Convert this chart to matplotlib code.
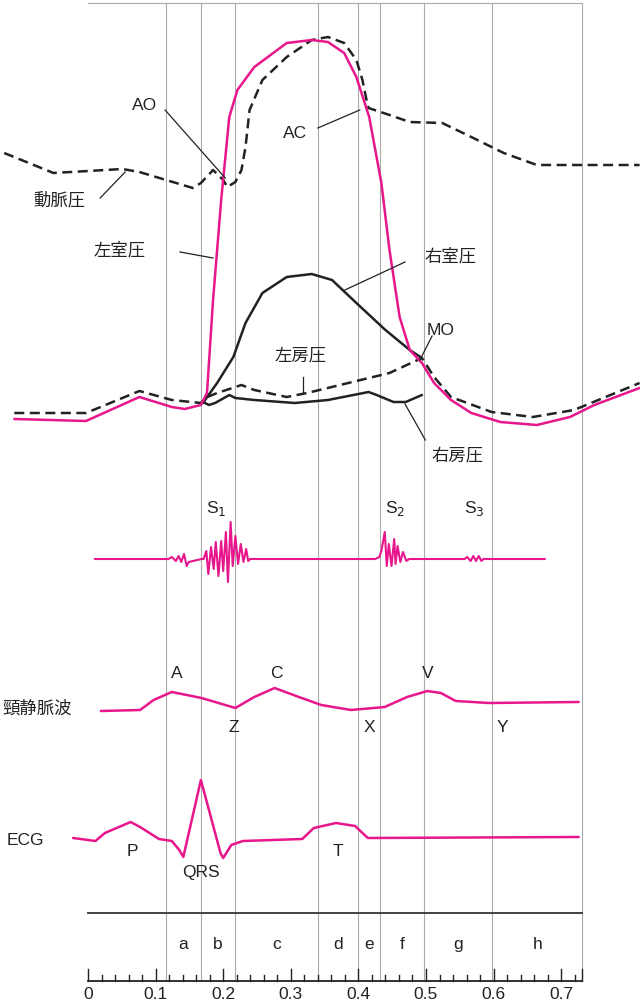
import matplotlib
matplotlib.use("Agg")
import matplotlib.pyplot as plt
import numpy as np

plt.rcParams['font.family'] = ['Liberation Sans', 'Noto Sans CJK JP', 'DejaVu Sans']
PINK = '#e8168c'

# ---- data: (time s, vertical position) ----
lv_t = [-0.109,-0.003,0.076,0.124,0.143,0.167,0.176,0.185,0.197,0.209,0.221,0.246,0.294,0.331,0.355,0.379,0.397,0.416,0.434,0.446,0.461,0.476,0.494,0.512,0.537,0.567,0.610,0.664,0.713,0.749,0.816]
lv_y = [419,421,397,407,409,405,393,300,200,117,90,67,43,40,42,53,77,117,183,250,317,350,363,383,400,413,422,425,417,405,388]

ao_t = [-0.124,-0.051,0.051,0.076,0.155,0.167,0.185,0.200,0.206,0.218,0.227,0.233,0.239,0.258,0.294,0.331,0.355,0.379,0.397,0.406,0.412,0.415,0.446,0.476,0.524,0.567,0.615,0.664,0.816]
ao_y = [153,173,169,172,188,183,170,180,187,182,170,147,110,80,57,40,37,43,60,80,100,108,115,122,123,137,153,165,165]

la_t = [-0.109,-0.003,0.076,0.124,0.167,0.173,0.191,0.227,0.246,0.294,0.324,0.385,0.446,0.494,0.512,0.537,0.597,0.658,0.719,0.816]
la_y = [413,413,391,400,403,398,393,385,390,397,393,383,373,358,377,397,412,417,410,383]

rv_t = [0.170,0.191,0.215,0.233,0.258,0.294,0.331,0.361,0.397,0.440,0.476,0.494]
rv_y = [403,383,357,323,293,277,274,280,303,330,350,358]

ra_t = [0.170,0.179,0.188,0.209,0.218,0.246,0.306,0.355,0.415,0.427,0.452,0.470,0.494]
ra_y = [402,405,403,395,398,400,403,400,392,395,402,402,395]

snd_t = [0.010,0.119,0.124,0.130,0.134,0.138,0.142,0.146,0.149,0.168,
         0.171,0.175,0.178,0.182,0.186,0.189,0.193,0.197,0.200,0.204,0.207,0.211,0.214,0.218,0.222,0.226,0.230,0.234,0.237,0.240,
         0.425,0.431,0.434,0.439,0.442,0.445,0.449,0.453,0.455,0.458,0.462,0.466,0.471,0.475,
         0.557,0.561,0.566,0.570,0.574,0.578,0.582,0.585,0.676]
snd_d = [0,0,-2,2,-3,3,-5,7,3,0,
         0,-8,15,-12,10,-17,17,-18,12,-27,23,-37,7,-23,5,-15,3,-10,2,0,
         0,-2,-8,-27,7,-15,7,-20,5,-13,3,-7,2,0,
         0,-2,2,-3,2,-3,2,0,0]
SND_BASE = 559

jvp_t = [0.019,0.077,0.097,0.124,0.168,0.218,0.246,0.276,0.312,0.345,0.389,0.439,0.472,0.502,0.522,0.544,0.593,0.726]
jvp_y = [711,710,700,692,698,708,697,688,697,705,710,707,697,691,693,701,703,702]

ecg_t = [-0.022,0.011,0.025,0.063,0.077,0.105,0.124,0.135,0.141,0.167,0.196,0.200,0.212,0.229,0.317,0.334,0.367,0.395,0.414,0.726]
ecg_y = [838,841,833,822,827,839,841,850,857,780,853,858,845,841,839,828,823,826,838,837]

bounds = [0.115,0.167,0.217,0.340,0.399,0.432,0.497,0.598,0.731]
phases = ['a','b','c','d','e','f','g','h']
tick_labels = ['0','0.1','0.2','0.3','0.4','0.5','0.6','0.7']

fig = plt.figure(figsize=(6.4,10.05), dpi=100)
ax = fig.add_axes([0,0,1,1])
ax.set_xlim(-0.1302, 0.8166)
ax.set_ylim(1005, 0)
ax.axis('off')

for b in bounds:
    ax.plot([b,b],[3,981], color='#aaaaaa', lw=0.8, zorder=0)
ax.plot([0,0.731],[3,3], color='#aaaaaa', lw=0.8, zorder=0)
ax.plot([0,0.731],[913,913], color='#333333', lw=1.3)

kw = dict(solid_joinstyle='round', solid_capstyle='round')
ax.plot(ao_t, ao_y, color='#222222', lw=1.8, ls=(0,(4,2.2)))
ax.plot(la_t, la_y, color='#222222', lw=1.8, ls=(0,(4,2.2)))
ax.plot(rv_t, rv_y, color='#222222', lw=1.8, **kw)
ax.plot(ra_t, ra_y, color='#222222', lw=1.8, **kw)
ax.plot(lv_t, lv_y, color=PINK, lw=1.8, **kw)

ax.plot(snd_t, [SND_BASE+d for d in snd_d], color=PINK, lw=1.5, **kw)
ax.plot(jvp_t, jvp_y, color=PINK, lw=1.8, **kw)
ax.plot(ecg_t, ecg_y, color=PINK, lw=1.8, **kw)

fs = 12.5
def lab(t, y, s, **kw):
    ax.text(t, y, s, fontsize=fs, ha='center', va='center', color='#222222', **kw)
def lead(t0,y0,t1,y1):
    ax.plot([t0,t1],[y0,y1], color='#222222', lw=0.9)

lab(0.084,105,'AO'); lead(0.114,110,0.203,178)
lab(0.306,133,'AC'); lead(0.340,128,0.402,110)
lab(-0.042,200,'動脈圧'); lead(0.018,198,0.055,172)
lab(0.047,250,'左室圧'); lead(0.136,252,0.185,258)
lab(0.536,256,'右室圧'); lead(0.469,262,0.380,290)
lab(0.521,330,'MO'); lead(0.509,336,0.491,360)
lab(0.314,355,'左房圧'); lead(0.318,377,0.318,392)
lab(0.547,455,'右房圧'); lead(0.469,404,0.499,440)

lab(0.190,508,'S$_1$'); lab(0.455,508,'S$_2$'); lab(0.571,508,'S$_3$')
lab(-0.075,708,'頸静脈波')
for s,t,y in [('A',0.132,673),('C',0.279,673),('V',0.502,673),('Z',0.215,727),('X',0.416,727),('Y',0.613,727)]:
    lab(t,y,s)
lab(-0.093,840,'ECG')
lab(0.066,851,'P'); lab(0.167,872,'QRS'); lab(0.370,851,'T')

ax.plot([0,0.731],[981,981], color='#222222', lw=1.3)
for i in range(37):
    t = i*0.02
    if t > 0.731: break
    h = 12 if i % 5 == 0 else 6
    ax.plot([t,t],[981,981-h], color='#222222', lw=1.0)
ax.plot([0.731,0.731],[981,969], color='#222222', lw=1.0)
for i, s in enumerate(tick_labels):
    lab(i*0.1, 994, s)
for i, p in enumerate(phases):
    lab((bounds[i]+bounds[i+1])/2, 944, p)

fig.savefig('out.png', dpi=100)
